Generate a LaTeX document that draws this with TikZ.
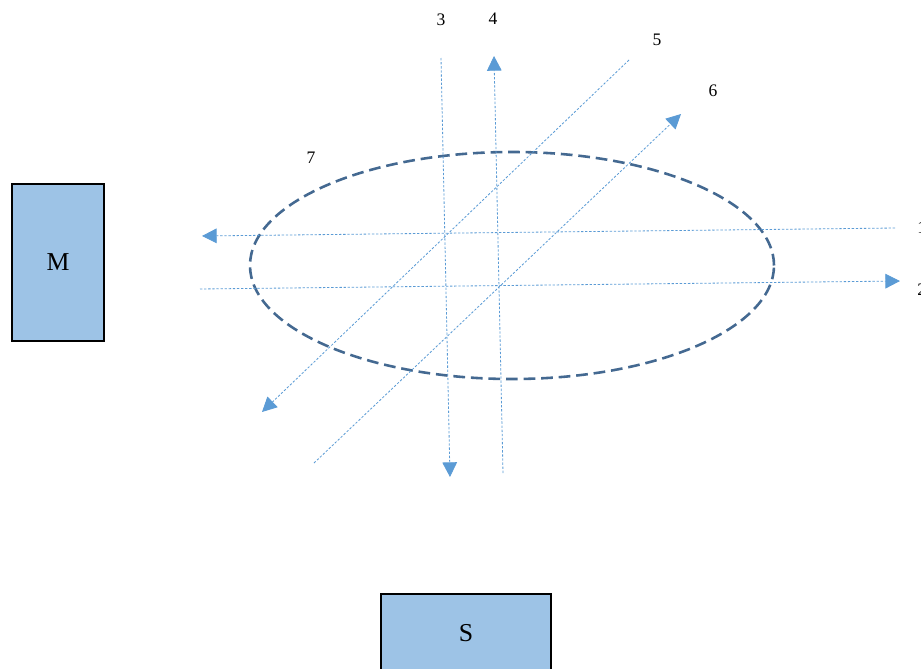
\documentclass[tikz,border=0pt]{standalone}
\usepackage{fontspec}
\setmainfont{Liberation Serif}
\usepackage{tikz}
\usetikzlibrary{arrows.meta, shapes.geometric, positioning, calc}
\definecolor{boxblue}{RGB}{157,195,230}
\definecolor{rayblue}{RGB}{91,155,213}
\definecolor{ringblue}{RGB}{68,105,145}

\begin{document}
\begin{tikzpicture}[x=0.03cm, y=-0.03cm,
  magnet/.style={draw, line width=1.6pt, fill=boxblue, font=\fontsize{22}{25}\selectfont},
  ray/.style={rayblue, line width=0.7pt, dash pattern=on 2pt off 1.5pt, -{Triangle[width=12.5pt, length=12.5pt]}},
  lbl/.style={font=\fontsize{15}{17}\selectfont}]
\useasboundingbox (0,0) rectangle (921,668);

% Components
\node[magnet, minimum width=2.76cm, minimum height=4.71cm] (mbox) at (58,262.5) {M};
\node[magnet, minimum width=5.1cm, minimum height=2.6cm, text depth=0.25cm] (sbox) at (466,637) {S};

% Beam region
\node[draw=ringblue, line width=2.2pt, dash pattern=on 10pt off 5pt, ellipse, inner sep=0pt, minimum width=15.72cm, minimum height=6.81cm] (ring) at (512,265.5) {};

% Ray end points
\coordinate (r1a) at (895,228);  \coordinate (r1b) at (202,236);
\coordinate (r2a) at (200,289);  \coordinate (r2b) at (900,281);
\coordinate (r3a) at (441,58);   \coordinate (r3b) at (450,477);
\coordinate (r4a) at (503,473);  \coordinate (r4b) at (494,56);
\coordinate (r5a) at (629,60);   \coordinate (r5b) at (262,412);
\coordinate (r6a) at (314,463);  \coordinate (r6b) at (681,114);

% Rays
\draw[ray] (r1a) -- (r1b);
\draw[ray] (r2a) -- (r2b);
\draw[ray] (r3a) -- (r3b);
\draw[ray] (r4a) -- (r4b);
\draw[ray] (r5a) -- (r5b);
\draw[ray] (r6a) -- (r6b);

% Labels
\node[lbl, anchor=west, inner sep=1pt] (l1) at (916,228) {1};
\node[lbl, anchor=west, inner sep=1pt] (l2) at (916,290) {2};
\node[lbl] (l3) at (441,20) {3};
\node[lbl] (l4) at (493,19) {4};
\node[lbl] (l5) at (657,40) {5};
\node[lbl] (l6) at (713,91) {6};
\node[lbl] (l7) at (311,158) {7};

\end{tikzpicture}
\end{document}
